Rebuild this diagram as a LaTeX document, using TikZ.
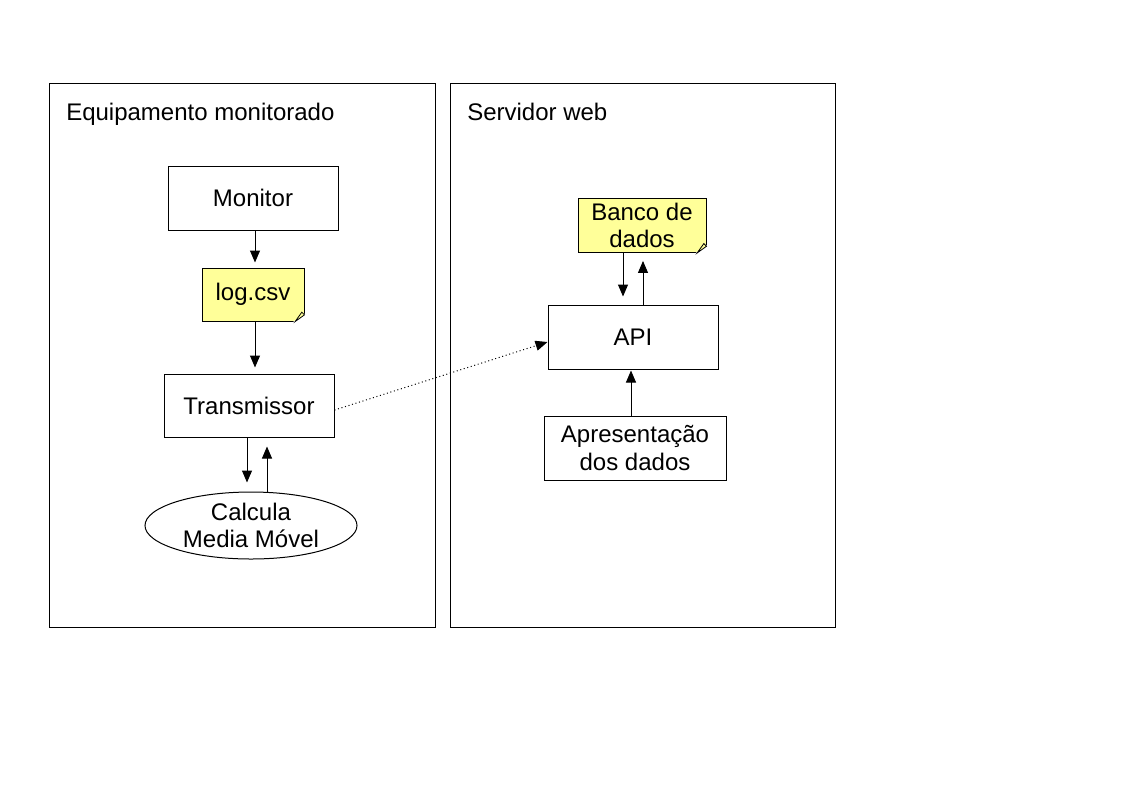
\documentclass[tikz,border=0pt]{standalone}
\usepackage{fontspec}
\setmainfont{Liberation Sans}
\usetikzlibrary{arrows.meta,shapes.geometric}
\definecolor{notey}{HTML}{FFFF99}
\tikzset{
  box/.style={draw, line width=0.75pt, minimum width=127.5pt, minimum height=48pt, align=center},
  note/.style={draw, fill=notey, line width=0.75pt, align=center,
    append after command={
      ([xshift=-7pt]\tikzlastnode.south east) edge[draw=white, fill=white, line width=1.2pt,
        to path={-- (\tikztostart -| \tikztotarget) -- (\tikztotarget) -- cycle}]
      ([yshift=5pt]\tikzlastnode.south east)
      ([xshift=-7pt]\tikzlastnode.south east) edge[draw, fill=notey, line width=0.6pt,
        to path={-- ([xshift=-2pt,yshift=2pt]\tikztotarget) -- (\tikztotarget) -- cycle}]
      ([yshift=5pt]\tikzlastnode.south east)}},
  arr/.style={-{Triangle[length=9pt,width=7.5pt]}, line width=0.75pt},
  frame/.style={draw, line width=0.75pt}
}
\begin{document}
\begin{tikzpicture}[x=0.75pt, y=-0.75pt, font=\fontsize{18}{20.5}\selectfont]
\useasboundingbox (0,0) rectangle (1123,794);

% the two machines
\draw [frame] (49,83) rectangle (435,627);
\draw [frame] (450,83) rectangle (835,627);
\node [anchor=base west, inner sep=0] (eqtitle) at (66,120) {Equipamento monitorado};
\node [anchor=base west, inner sep=0] (svtitle) at (467,120) {Servidor web};

% equipamento monitorado
\node [box] (mon) at (253,198) {Monitor};
\node [note, minimum width=76.5pt, minimum height=39.75pt] (log) at (253,294.5) {log.csv};
\node [box, minimum height=47.25pt] (trans) at (249,405.5) {Transmissor};
\node [draw, ellipse, line width=0.75pt, minimum width=159pt, minimum height=50.25pt,
       inner sep=0, align=center] (calc) at (251,525.5) {Calcula\\Media Móvel};

\draw [arr, shorten >=3.75pt] ([xshift=1.5pt]mon.south) -- ([xshift=1.5pt]log.north);
\draw [arr, shorten >=4.5pt] ([xshift=1.5pt]log.south) -- ([xshift=1.5pt]log.south |- trans.north);
\draw [arr, shorten >=6.75pt] ([xshift=-1.5pt]trans.south) -- ([xshift=-1.5pt]trans.south |- calc.north);
\draw [arr, shorten >=6.75pt] ([xshift=13.5pt]trans.south |- calc.north) -- ([xshift=13.5pt]trans.south);

% servidor web
\node [note, minimum width=96pt, minimum height=39.75pt] (db) at (642,225.5) {Banco de\\dados};
\node [box] (api) at (633,337) {API};
\node [box, minimum width=136.5pt] (pres) at (635,448) {Apresentação\\dos dados};

\draw [arr, shorten >=6pt] ([xshift=-14.25pt]db.south) -- ([xshift=-14.25pt]db.south |- api.north);
\draw [arr, shorten >=6pt] ([xshift=0.75pt]db.south |- api.north) -- ([xshift=0.75pt]db.south);
\draw [arr, shorten >=0.75pt] ([xshift=-3pt]pres.north) -- ([xshift=-3pt]pres.north |- api.south);

% envio dos dados
\draw [arr, dotted] ([yshift=-3.4pt]trans.east) -- ([yshift=-3.75pt]api.west);

\end{tikzpicture}
\end{document}
